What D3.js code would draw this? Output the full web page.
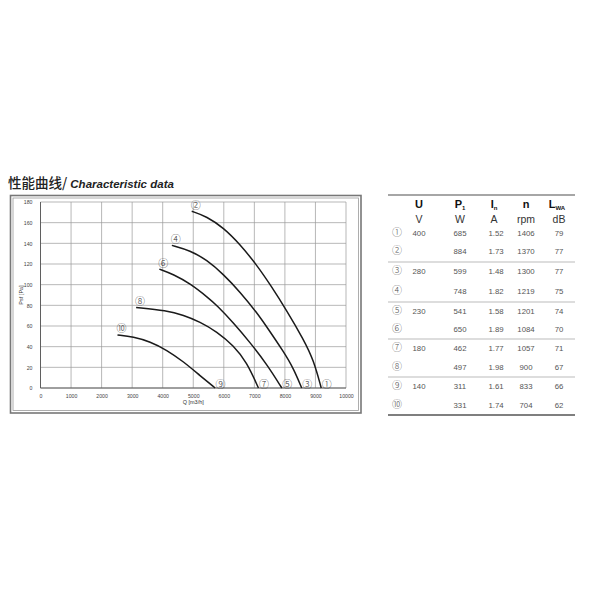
<!DOCTYPE html>
<html><head><meta charset="utf-8">
<script src="https://cdn.jsdelivr.net/npm/d3@7"></script>
<style>body{margin:0;background:#fff}svg{display:block}</style>
</head><body>
<svg id="c" width="600" height="600"></svg>
<script>
// ---- data ----
const xTicks = [0,1000,2000,3000,4000,5000,6000,7000,8000,9000,10000];
const yTicks = [0,20,40,60,80,100,120,140,160,180];
const curveLabelsStart = ["②","④","⑥","⑧","⑩"];
const curveLabelsEnd   = ["①","③","⑤","⑦","⑨"];
const curve2to1 = [[4950,171],[5440,166],[5990,155],[6530,139],[7080,119],[7520,100],[8060,75],[8610,47],[8940,27],[9190,0]];
const curve4to3 = [[4300,138],[4900,133],[5440,124],[5990,110],[6530,93],[7080,73],[7410,59],[7960,35],[8280,19],[8550,0]];
const curve6to5 = [[3890,115],[4350,110],[4900,101],[5500,87],[5770,80],[6320,63],[6860,44],[7410,23],[7900,0]];
const curve8to7 = [[3130,78],[4130,75],[4680,70.5],[5220,64],[5770,54.5],[6320,41],[6750,25],[7135,0]];
const curve10to9 = [[2520,51.3],[3040,49.6],[3590,44.8],[4130,36.8],[4680,25.5],[5220,12],[5716,0]];
const curves = [curve2to1, curve4to3, curve6to5, curve8to7, curve10to9];

const rowIds = ["①","②","③","④","⑤","⑥","⑦","⑧","⑨","⑩"];
const voltages = ["400","","280","","230","","180","","140",""];
const powers = ["685","884","599","748","541","650","462","497","311","331"];
const currents = ["1.52","1.73","1.48","1.82","1.58","1.89","1.77","1.98","1.61","1.74"];
const speeds = ["1406","1370","1300","1219","1201","1084","1057","900","833","704"];
const noise = ["79","77","77","75","74","70","71","67","66","62"];

// ---- drawing ----
const svg = d3.select("#c");
const sans = "'Liberation Sans', Arial, sans-serif";

// title
const title = svg.append("text").attr("x",8).attr("y",188).attr("fill","#222");
title.append("tspan").attr("font-family","'Noto Sans CJK SC'").attr("font-size",13.5).attr("font-weight",500).text("性能曲线/ ");
title.append("tspan").attr("font-family",sans).attr("font-size",11.5).attr("font-weight","bold").attr("font-style","italic").text("Characteristic data");

// frame (double)
svg.append("rect").attr("x",10.5).attr("y",195.5).attr("width",350.5).attr("height",217.5)
  .attr("fill","none").attr("stroke","#777").attr("stroke-width",1.6);
svg.append("rect").attr("x",13).attr("y",198).attr("width",345.5).attr("height",212.5)
  .attr("fill","none").attr("stroke","#999").attr("stroke-width",0.8);

const x = d3.scaleLinear().domain([0,10000]).range([40.5,346]);
const y = d3.scaleLinear().domain([0,180]).range([388,202]);

const g = svg.append("g");
// grid
g.selectAll("line.vg").data(xTicks).join("line")
  .attr("x1",d=>x(d)).attr("x2",d=>x(d)).attr("y1",y(0)).attr("y2",y(180))
  .attr("stroke","#9a9a9a").attr("stroke-width",0.7);
g.selectAll("line.hg").data(yTicks).join("line")
  .attr("y1",d=>y(d)).attr("y2",d=>y(d)).attr("x1",x(0)).attr("x2",x(10000))
  .attr("stroke","#9a9a9a").attr("stroke-width",0.7);
// axis borders
g.append("line").attr("x1",x(0)).attr("x2",x(10000)).attr("y1",y(0)).attr("y2",y(0)).attr("stroke","#555").attr("stroke-width",0.9);
g.append("line").attr("x1",x(0)).attr("x2",x(0)).attr("y1",y(0)).attr("y2",y(180)).attr("stroke","#555").attr("stroke-width",0.9);

// tick labels via axes
const xa = svg.append("g").attr("transform",`translate(0,${y(0)+3})`)
  .call(d3.axisBottom(x).tickValues(xTicks).tickSize(0).tickFormat(d3.format("d")));
xa.select(".domain").remove();
xa.selectAll("text").attr("font-size",5.2).attr("font-family",sans).attr("fill","#444");
const ya = svg.append("g").attr("transform",`translate(${x(0)-5},0)`)
  .call(d3.axisLeft(y).tickValues(yTicks).tickSize(0).tickFormat(d3.format("d")));
ya.select(".domain").remove();
ya.selectAll("text").attr("font-size",5.2).attr("font-family",sans).attr("fill","#444");

// axis titles
svg.append("text").attr("x",(x(0)+x(10000))/2).attr("y",404).attr("text-anchor","middle")
  .attr("font-family",sans).attr("font-size",5.5).attr("fill","#333").text("Q [m3/h]");
svg.append("text").attr("transform",`translate(23,${(y(0)+y(180))/2}) rotate(-90)`).attr("text-anchor","middle")
  .attr("font-family",sans).attr("font-size",5.5).attr("fill","#333").text("Psf [Pa]");

// curves
const line = d3.line().x(d=>x(d[0])).y(d=>y(d[1])).curve(d3.curveBasis);
svg.selectAll("path.curve").data(curves).join("path")
  .attr("d",line).attr("fill","none").attr("stroke","#1a1a1a").attr("stroke-width",1.5);

const circFont = "'Noto Sans CJK JP', 'DejaVu Sans', sans-serif";
curves.forEach((c,i)=>{
  const s = c[0], e = c[c.length-1];
  svg.append("text").attr("x",x(s[0])+4).attr("y",y(s[1])-2.5).attr("text-anchor","middle")
    .attr("font-family",circFont).attr("font-weight",300).attr("font-size",10).attr("fill","#333").text(curveLabelsStart[i]);
  svg.append("text").attr("x",x(e[0])+5.5).attr("y",y(e[1])-0.5).attr("text-anchor","middle")
    .attr("font-family",circFont).attr("font-weight",300).attr("font-size",10).attr("fill","#333").text(curveLabelsEnd[i]);
});

// ---- table ----
const t = svg.append("g");
const cols = {id:397, u:419, p:460, i:496, n:526, l:559};
t.append("line").attr("x1",388).attr("x2",575).attr("y1",195).attr("y2",195).attr("stroke","#888").attr("stroke-width",1.3);
[262,302,339,377].forEach(yy=>t.append("line").attr("x1",388).attr("x2",575).attr("y1",yy).attr("y2",yy).attr("stroke","#bbb").attr("stroke-width",1));
t.append("line").attr("x1",388).attr("x2",575).attr("y1",415).attr("y2",415).attr("stroke","#555").attr("stroke-width",1.6);

function head(xc, main, sub){
  const tx = t.append("text").attr("x",xc).attr("y",208).attr("text-anchor","middle")
    .attr("font-family",sans).attr("font-weight","bold").attr("font-size",11).attr("fill","#111");
  tx.append("tspan").text(main);
  if(sub) tx.append("tspan").attr("font-size",6).attr("dy",2).text(sub);
}
head(cols.u,"U"); head(cols.p,"P","1"); head(cols.i-2,"I","n"); head(cols.n,"n"); head(cols.l-2,"L","WA");
const units = ["V","W","A","rpm","dB"];
[cols.u,cols.p,cols.i-2,cols.n,cols.l].forEach((xc,k)=>{
  t.append("text").attr("x",xc).attr("y",223).attr("text-anchor","middle")
   .attr("font-family",sans).attr("font-size",10.5).attr("fill","#333").text(units[k]);
});
const rowY = [233,251,271,291,311,329,348,367,386,405];
rowIds.forEach((id,r)=>{
  const yy = rowY[r]+3;
  const txt = (xc,s,f,fs,fw)=>t.append("text").attr("x",xc).attr("y",yy).attr("text-anchor","middle")
    .attr("font-family",f||sans).attr("font-weight",fw||400).attr("font-size",fs||7.8).attr("fill","#555").text(s);
  txt(cols.id,id,circFont,10,300);
  txt(cols.u,voltages[r]);
  txt(cols.p,powers[r]);
  txt(cols.i,currents[r]);
  txt(cols.n,speeds[r]);
  txt(cols.l,noise[r]);
});
</script>
</body></html>
